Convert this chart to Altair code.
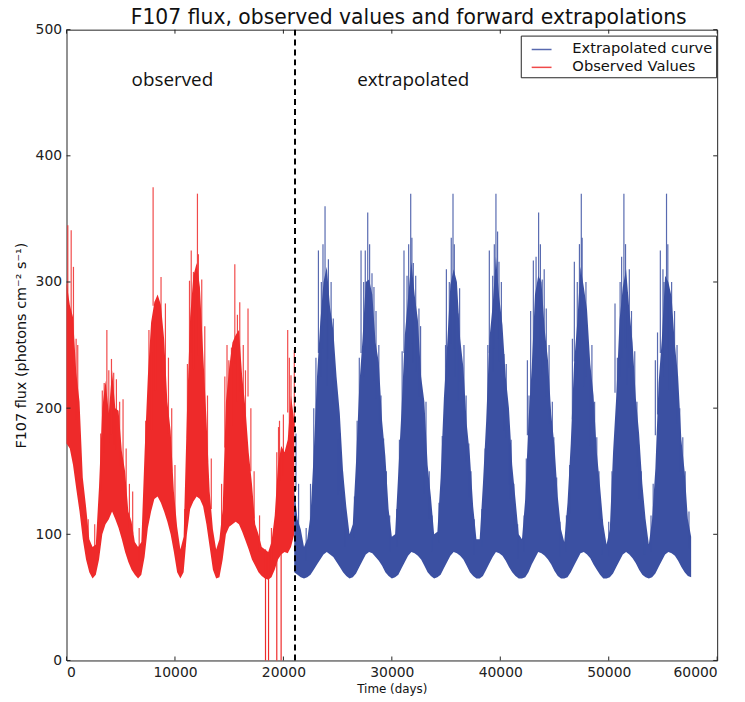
import altair as alt
import pandas as pd

# ---------------- data ----------------
x_ticks = [0, 10000, 20000, 30000, 40000, 50000, 60000]
y_ticks = [0, 100, 200, 300, 400, 500]

STEP = 300  # days between envelope samples

# observed series envelope (days 0 .. 21000)
obs_low = [172, 168, 155, 136, 118, 96, 80, 70, 65, 68,
           80, 100, 108, 112, 118, 112, 105, 96, 86, 78,
           72, 68, 65, 68, 82, 105, 118, 128, 130, 125,
           118, 110, 100, 86, 70, 65, 70, 100, 120, 126,
           130, 128, 122, 108, 90, 72, 65, 66, 80, 100,
           106, 108, 110, 108, 102, 95, 88, 80, 75, 70,
           67, 65, 64, 66, 72, 80, 84, 86, 85, 90,
           100]
obs_top = [300, 282, 272, 228, 205, 145, 122, 96, 90, 92,
           138, 200, 222, 196, 230, 200, 198, 166, 150, 118,
           110, 94, 90, 94, 165, 225, 268, 284, 290, 282,
           255, 205, 182, 134, 106, 88, 98, 195, 272, 305,
           315, 296, 244, 192, 134, 104, 88, 96, 120, 205,
           232, 252, 258, 262, 225, 200, 165, 140, 108, 100,
           90, 88, 86, 94, 115, 155, 170, 165, 175, 210,
           190]

# extrapolated series envelope (days 21000 .. 57600)
ext_low = [70, 68, 66, 65, 66, 68, 72, 76, 80, 84, 86, 84, 82, 78, 74, 70, 67,
           65, 66, 69, 74, 79, 84, 86, 85, 82, 79, 75, 70, 67,
           65, 66, 68, 73, 78, 83, 86, 85, 83, 80, 75, 70, 67,
           65, 66, 68, 73, 78, 83, 86, 85, 83, 80, 75, 70, 67,
           65, 65, 67, 72, 77, 82, 86, 85, 83, 79, 74, 70, 67,
           65, 65, 66, 70, 76, 81, 86, 85, 83, 80, 76, 71, 67,
           65, 65, 66, 70, 75, 80, 85, 86, 84, 81, 76, 72, 68,
           65, 65, 66, 69, 74, 79, 84, 86, 84, 81, 77, 72, 68, 66,
           65, 66, 69, 74, 79, 84, 86, 85, 83, 79, 74, 70, 67, 66]
ext_top = [135, 112, 104, 90, 96, 115, 165, 225, 268, 300, 312, 280, 262, 225, 196, 150, 122,
           100, 108, 158, 218, 255, 300, 302, 290, 252, 236, 190, 162, 120,
           98, 100, 150, 200, 258, 288, 316, 290, 270, 225, 205, 155, 130,
           100, 102, 145, 208, 250, 298, 310, 300, 255, 232, 188, 162, 122,
           96, 96, 140, 190, 255, 282, 320, 288, 266, 225, 200, 155, 128,
           100, 96, 128, 190, 232, 290, 305, 300, 262, 238, 195, 170, 130,
           104, 94, 125, 172, 235, 268, 312, 296, 278, 235, 210, 165, 138,
           108, 92, 104, 165, 210, 270, 296, 310, 278, 252, 208, 180, 140, 112,
           92, 112, 152, 220, 255, 305, 300, 288, 250, 225, 175, 150, 112, 98]

# isolated tall spikes
obs_spike_day = [120, 430, 640, 885, 1035, 3475, 3720, 4145, 4600, 5213, 6100,
                 7838, 7985, 8200, 8716, 9120, 11340, 11500, 11707, 12073, 12164,
                 12470, 14970, 15210, 15520, 15760, 15975, 16737, 19390, 19640,
                 20396, 20700, 21006]
obs_spike_val = [345, 341, 312, 255, 250, 220, 262, 239, 223, 207, 134,
                 244, 375, 285, 304, 283, 301, 325, 308, 370, 322,
                 302, 238, 248, 314, 274, 284, 279, 165, 190,
                 262, 226, 246]
ext_spike_day = [21160, 23230, 23500, 23840, 24000, 24600, 25030, 25250,
                 27160, 27400, 27776, 28170, 28540, 29240,
                 31120, 31400, 31740, 31980, 32500, 32950,
                 35030, 35300, 35640, 35850, 36100, 37100,
                 38990, 39300, 39600, 39880, 40340, 40800, 40900,
                 42500, 42800, 43050, 43535, 43870, 44240, 44940,
                 46830, 47100, 47470, 47680, 48290, 48900,
                 50580, 51190, 51400, 51710, 52100, 52770,
                 54300, 54760, 55100, 55330, 55610, 56070, 56830]
ext_spike_val = [180, 325, 300, 360, 290, 271, 175, 180,
                 325, 300, 355, 307, 277, 176,
                 325, 305, 370, 315, 279, 176,
                 310, 300, 370, 300, 275, 172,
                 325, 305, 370, 316, 243, 186, 171,
                 238, 277, 317, 355, 302, 279, 177,
                 316, 300, 370, 290, 227, 177,
                 283, 320, 370, 292, 277, 171,
                 238, 325, 300, 370, 285, 277, 177]

# smaller spikes poking above the dense band
obs_minor_day = [2000, 2600, 3150, 3300, 3900, 4350, 4900, 5500, 5800, 6700, 7300,
                 7600, 9400, 9700, 10000, 10900, 11150, 12750, 13000, 13350, 14300,
                 14600, 14800, 16300, 16500, 17000, 17300, 17800, 18900, 19550,
                 20000, 20550]
obs_minor_val = [112, 108, 180, 214, 230, 228, 205, 168, 140, 105, 190,
                 262, 240, 200, 155, 120, 235, 265, 210, 160, 140,
                 225, 250, 250, 230, 200, 150, 115, 105, 185,
                 195, 240]
ext_minor_day = [21400, 22100, 22500, 22800, 23000, 23650, 24150, 24400, 25450, 25700,
                 26550, 26800, 27000, 27550, 27950, 28350, 28800, 29000, 29500, 29800,
                 30450, 30700, 30950, 31550, 31850, 32200, 32650, 33150, 33450, 33700,
                 34350, 34650, 34950, 35480, 35760, 36250, 36650, 36850, 37300, 37600,
                 38300, 38600, 38850, 39450, 39750, 40100, 40550, 41000, 41250, 41600,
                 42200, 42400, 42650, 43300, 43700, 44050, 44500, 44800, 45200, 45500,
                 46100, 46400, 46650, 47300, 47550, 47900, 48450, 48700, 49100, 49400,
                 50000, 50300, 50800, 51050, 51550, 51900, 52400, 52600, 53000, 53300,
                 53900, 54100, 54500, 55000, 55450, 55800, 56300, 56550, 57050, 57400]
ext_minor_val = [140, 105, 140, 200, 240, 330, 318, 300, 150, 120,
                 130, 190, 240, 325, 330, 296, 250, 210, 150, 115,
                 120, 175, 245, 330, 335, 305, 265, 205, 150, 115,
                 125, 178, 250, 335, 330, 295, 250, 210, 150, 112,
                 120, 168, 250, 330, 340, 300, 235, 175, 140, 108,
                 115, 160, 210, 320, 330, 310, 250, 205, 145, 110,
                 115, 155, 255, 330, 335, 300, 250, 205, 150, 112,
                 110, 150, 240, 300, 330, 310, 245, 205, 150, 112,
                 115, 140, 260, 310, 330, 300, 250, 200, 150, 118]

# data drop-outs falling to zero
dropout_day = [18350, 18630, 19390, 19790]
dropout_top = [88, 86, 100, 110]

split_day = [21070]

note_text = ["observed", "extrapolated"]
note_day = [6000, 26800]
note_val = [460, 460]

# ---------------- tables ----------------
SER_EXT = "Extrapolated curve"
SER_OBS = "Observed Values"
BLUE = "#3b50a2"
RED = "#ee2a2a"
W, H = 656, 636
TICK = 4

obs_day = [i * STEP for i in range(len(obs_low))]
ext_day = [21000 + i * STEP for i in range(len(ext_low))]

band_obs = pd.DataFrame({"day": obs_day, "low": obs_low, "top": obs_top})
band_ext = pd.DataFrame({"day": ext_day, "low": ext_low, "top": ext_top})
sp_day = obs_spike_day + obs_minor_day + ext_spike_day + ext_minor_day
sp_val = obs_spike_val + obs_minor_val + ext_spike_val + ext_minor_val
sp_ser = ([SER_OBS] * (len(obs_spike_day) + len(obs_minor_day))
          + [SER_EXT] * (len(ext_spike_day) + len(ext_minor_day)))
spikes = pd.DataFrame({"day": sp_day, "v": sp_val, "series": sp_ser})
drops = pd.DataFrame({"day": dropout_day, "v": dropout_top})
split = pd.DataFrame({"day": split_day})
notes = pd.DataFrame({"label": note_text, "day": note_day, "v": note_val})
xt = pd.DataFrame({"t": x_ticks})
yt = pd.DataFrame({"t": y_ticks})

xs = alt.Scale(domain=[0, 60000], nice=False, zero=False)
ys = alt.Scale(domain=[0, 500], nice=False)
cscale = alt.Scale(domain=[SER_EXT, SER_OBS], range=[BLUE, RED])

FONT = "DejaVu Sans"

x_axis = alt.Axis(values=x_ticks, format="d", ticks=False,
                  domain=False, grid=False, labelPadding=5, labelFontSize=14,
                  labelFont=FONT, labelColor="#222", title="Time (days)",
                  titleFont=FONT, titleFontSize=12, titleFontWeight="normal",
                  titleColor="#111", titlePadding=4)
y_axis = alt.Axis(values=y_ticks, format="d", ticks=False,
                  domain=False, grid=False, labelPadding=5, labelFontSize=14,
                  labelFont=FONT, labelColor="#222",
                  title="F107 flux (photons cm\u207b\u00b2 s\u207b\u00b9)",
                  titleFont=FONT, titleFontSize=14.5, titleFontWeight="normal",
                  titleColor="#111", titlePadding=7)


def band_layer(df, colour, with_axes):
    enc_x = alt.X("day:Q", scale=xs, axis=x_axis) if with_axes else alt.X("day:Q", scale=xs)
    enc_y = alt.Y("low:Q", scale=ys, axis=y_axis) if with_axes else alt.Y("low:Q", scale=ys)
    return alt.Chart(df).mark_area(interpolate="linear", color=colour, opacity=1).encode(
        x=enc_x, y=enc_y, y2="top:Q")


obs_band = band_layer(band_obs, RED, True)
ext_band = band_layer(band_ext, BLUE, False)

spike_layer = alt.Chart(spikes).transform_calculate(
    base="datum.v * 0.75"
).mark_rule(strokeWidth=1.2, opacity=0.85).encode(
    x=alt.X("day:Q", scale=xs),
    y=alt.Y("v:Q", scale=ys),
    y2="base:Q",
    color=alt.Color(
        "series:N", scale=cscale,
        legend=alt.Legend(title=None, orient="none", legendX=458, legendY=6,
                          symbolType="stroke", symbolSize=400, symbolStrokeWidth=1.5,
                          symbolOffset=7,
                          labelFont=FONT, labelFontSize=14.8, labelColor="#111",
                          labelOffset=20, padding=3, rowPadding=0,
                          strokeColor="#222", fillColor="white", cornerRadius=0),
    ),
)

drop_layer = alt.Chart(drops).mark_rule(strokeWidth=1.2, color=RED).encode(
    x=alt.X("day:Q", scale=xs),
    y=alt.Y("v:Q", scale=ys),
    y2=alt.datum(0),
)

split_layer = alt.Chart(split).mark_rule(color="black", strokeWidth=2,
                                         strokeDash=[6, 4]).encode(
    x=alt.X("day:Q", scale=xs),
)

note_layer = alt.Chart(notes).mark_text(font="Open Sans", fontSize=19, align="left",
                                        baseline="middle", color="#111").encode(
    x=alt.X("day:Q", scale=xs),
    y=alt.Y("v:Q", scale=ys),
    text="label:N",
)

# inward-pointing ticks on all four sides (positions from the tick lists)
tick_style = dict(color="#222", strokeWidth=1)
xt_bottom = alt.Chart(xt).mark_rule(**tick_style).encode(
    x=alt.X("t:Q", scale=xs), y=alt.value(H), y2=alt.value(H - TICK))
xt_top = alt.Chart(xt).mark_rule(**tick_style).encode(
    x=alt.X("t:Q", scale=xs), y=alt.value(0), y2=alt.value(TICK))
yt_left = alt.Chart(yt).mark_rule(**tick_style).encode(
    y=alt.Y("t:Q", scale=ys), x=alt.value(0), x2=alt.value(TICK))
yt_right = alt.Chart(yt).mark_rule(**tick_style).encode(
    y=alt.Y("t:Q", scale=ys), x=alt.value(W), x2=alt.value(W - TICK))

chart = alt.layer(
    obs_band, ext_band, spike_layer, drop_layer, split_layer, note_layer,
    xt_bottom, xt_top, yt_left, yt_right,
).properties(
    width=W, height=H,
    padding={"left": 59, "top": 19, "right": 20, "bottom": 35},
    autosize=alt.AutoSizeParams(type="none"),
    title=alt.TitleParams(
        text="F107 flux, observed values and forward extrapolations",
        font=FONT, fontSize=20.5, fontWeight="normal", color="#111",
        anchor="middle", offset=-6, dx=17,
    ),
).configure_view(
    stroke="#222", strokeWidth=1
)

chart.save("out.html", embed_options={"renderer": "svg", "actions": False})
